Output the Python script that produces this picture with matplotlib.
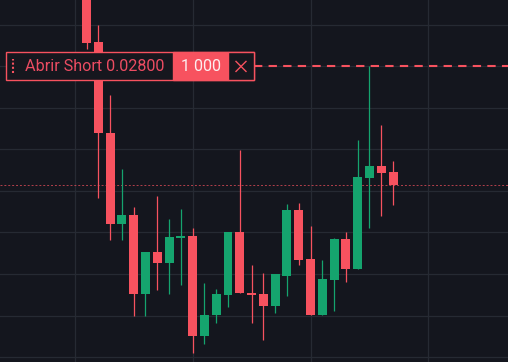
import numpy as np
import matplotlib.pyplot as plt
from matplotlib.patches import Rectangle

# velas (precio)
opens  = [0.028233, 0.028059, 0.027840, 0.027620, 0.027642, 0.027452, 0.027553,
          0.027527, 0.027587, 0.027592, 0.027351, 0.027401, 0.027449, 0.027601,
          0.027454, 0.027452, 0.027423, 0.027495, 0.027654, 0.027536, 0.027401,
          0.027486, 0.027584, 0.027512, 0.027731, 0.027760, 0.027746]
highs  = [0.028257, 0.028100, 0.027931, 0.027753, 0.027661, 0.027553, 0.027688,
          0.027633, 0.027657, 0.027611, 0.027478, 0.027464, 0.027601, 0.027799,
          0.027522, 0.027502, 0.027500, 0.027669, 0.027671, 0.027616, 0.027534,
          0.027587, 0.027601, 0.027823, 0.028000, 0.027859, 0.027772]
lows   = [0.028042, 0.027683, 0.027582, 0.027582, 0.027399, 0.027399, 0.027461,
          0.027452, 0.027473, 0.027310, 0.027331, 0.027382, 0.027420, 0.027454,
          0.027382, 0.027341, 0.027406, 0.027447, 0.027522, 0.027401, 0.027401,
          0.027411, 0.027481, 0.027512, 0.027611, 0.027640, 0.027666]
closes = [0.028057, 0.027840, 0.027620, 0.027642, 0.027452, 0.027553, 0.027527,
          0.027589, 0.027592, 0.027351, 0.027401, 0.027452, 0.027601, 0.027454,
          0.027449, 0.027423, 0.027500, 0.027654, 0.027534, 0.027401, 0.027488,
          0.027584, 0.027512, 0.027734, 0.027760, 0.027743, 0.027714]

order_price = 0.02800
order_label = 'Abrir Short 0.02800'
order_qty = '1 000'

price_grid = [0.0273, 0.0274, 0.0275, 0.0276, 0.0277, 0.0278, 0.0279, 0.0280, 0.0281]
time_grid = [-1, 9, 19, 29]

BG = '#14161e'
GRID = '#262a33'
RED = '#f7525f'
GREEN = '#15a46e'

W, H = 508, 362
fig = plt.figure(figsize=(W / 100, H / 100), dpi=100)
fig.patch.set_facecolor(BG)
ax = fig.add_axes([0, 0, 1, 1])
ax.set_facecolor(BG)

o = np.array(opens)
h = np.array(highs)
l = np.array(lows)
c = np.array(closes)
x = np.arange(len(o))
cols = np.where(c >= o, GREEN, RED)

ax.vlines(x, l, h, colors=cols, linewidth=0.9, zorder=3)
body = np.maximum(np.abs(c - o), 4.5e-6)
ax.bar(x, body, bottom=np.minimum(o, c), width=0.76, color=cols, linewidth=0, zorder=4)

ax.set_xlim(-7.34, 35.75)
ax.set_ylim(0.027288, 0.028160)
ax.set_xticks(time_grid)
ax.set_yticks(price_grid)
ax.grid(True, color=GRID, linewidth=0.9)
ax.tick_params(left=False, bottom=False, labelleft=False, labelbottom=False)
for s in ax.spines.values():
    s.set_visible(False)

# linea de precio actual
ax.axhline(c[-1], color=RED, alpha=0.7, linewidth=0.7, linestyle=(0, (2, 2)), zorder=2)

# linea de la orden
ytr = ax.get_yaxis_transform()
ax.plot([254 / W, 1], [order_price, order_price], transform=ytr, color=RED,
        linewidth=1.5, dashes=(4, 3), zorder=5)

# etiqueta de la orden (px -> fraccion de ejes)
y0, y1 = ax.get_ylim()
yf = (order_price - y0) / (y1 - y0)
bh = 28 / H
by = yf - bh / 2

def px(v):
    return v / W

ax.add_patch(Rectangle((px(6), by), px(248), bh, transform=ax.transAxes,
                       facecolor='#16171e', edgecolor=RED, linewidth=1.0, zorder=6))
ax.add_patch(Rectangle((px(173), by), px(55), bh, transform=ax.transAxes,
                       facecolor=RED, edgecolor=RED, linewidth=1.0, zorder=7))
ax.add_patch(Rectangle((px(228), by), px(26), bh, transform=ax.transAxes,
                       facecolor='#16171e', edgecolor=RED, linewidth=1.0, zorder=7))

ax.text(px(25), yf, order_label, transform=ax.transAxes, color='#ec4c62', fontsize=11.6,
        family='Roboto', ha='left', va='center', zorder=8)
ax.text(px(201), yf, order_qty, transform=ax.transAxes, color='#fdeef0', fontsize=11.6,
        family='Roboto', ha='center', va='center', zorder=8)

# icono de cerrar
d = 5
ax.plot([px(241 - d), px(241 + d)], [yf - d / H, yf + d / H], transform=ax.transAxes,
        color=RED, linewidth=1.0, zorder=8)
ax.plot([px(241 - d), px(241 + d)], [yf + d / H, yf - d / H], transform=ax.transAxes,
        color=RED, linewidth=1.0, zorder=8)

# asa de arrastre
ax.plot([px(13), px(13)], [yf - 7 / H, yf + 7 / H], transform=ax.transAxes,
        color=RED, linewidth=1.5, linestyle=(0, (1, 1)), zorder=8)

fig.savefig('out.png', dpi=100, facecolor=BG)
